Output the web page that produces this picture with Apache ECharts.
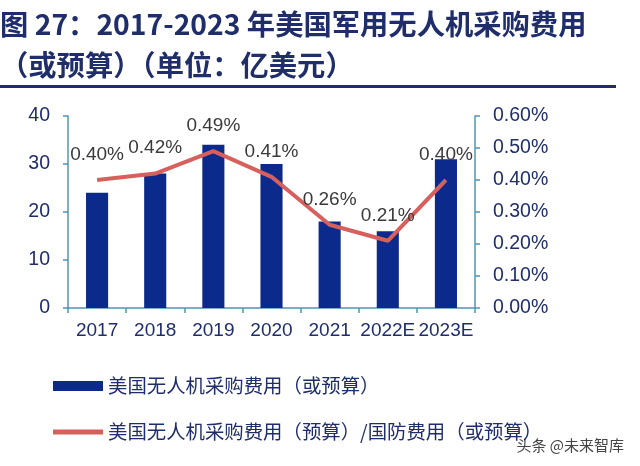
<!DOCTYPE html>
<html><head><meta charset="utf-8">
<script src="https://cdn.jsdelivr.net/npm/echarts@6/dist/echarts.min.js"></script>
<style>html,body{margin:0;padding:0;background:#fff}#c{width:640px;height:466px}</style>
</head><body><div id="c"></div>
<script>
const categories = ['2017','2018','2019','2020','2021','2022E','2023E'];
const spending = [24, 28, 34, 30, 18, 16, 31];
const ratio = [0.40, 0.42, 0.49, 0.41, 0.26, 0.21, 0.40];
const leftTicks = [0, 10, 20, 30, 40];
const rightTicks = [0, 0.1, 0.2, 0.3, 0.4, 0.5, 0.6];
const titleLine1 = '图 27：2017-2023 年美国军用无人机采购费用';
const titleLine2 = '（或预算）（单位：亿美元）';
const barName = '美国无人机采购费用（或预算）';
const lineName = '美国无人机采购费用（预算）/国防费用（或预算）';

const navy = '#1f2d6b';
const axisCol = '#4f96b4';
const font = 'Liberation Sans, Arial, Noto Sans CJK SC, sans-serif';
const cjk = 'Noto Sans CJK SC, sans-serif';

const chart = echarts.init(document.getElementById('c'));
chart.setOption({
  backgroundColor: '#fff',
  animation: false,
  graphic: [
    {type:'text', left: 0, top: 10, style:{text: titleLine1, font: 'bold 28.3px ' + cjk, fill: navy}},
    {type:'text', left: 0, top: 51, style:{text: titleLine2, font: 'bold 28.3px ' + cjk, fill: navy}},
    {type:'rect', shape:{x:0, y:85, width:616, height:3}, style:{fill: navy}},
    {type:'text', right: 16, top: 438, style:{text: '头条 @未来智库', font: '15px ' + cjk, fill: '#444'}}
  ],
  grid: {left: 68, right: 165, top: 116, bottom: 158},
  legend: {
    orient: 'vertical', left: 48, top: 371,
    itemWidth: 50, itemHeight: 10, itemGap: 26,
    textStyle: {fontFamily: cjk, fontSize: 19.4, color: navy, lineHeight: 20},
    data: [
      {name: barName, icon: 'rect'},
      {name: lineName, icon: 'path://M0,0h100v10h-100z'}
    ]
  },
  xAxis: {
    type: 'category', data: categories,
    axisLine: {lineStyle: {color: axisCol, width: 1.5}},
    axisTick: {show: true, length: 5, lineStyle: {color: axisCol, width: 1.5}},
    axisLabel: {color: navy, fontSize: 19, fontFamily: font, margin: 13, interval: 0}
  },
  yAxis: [
    {type: 'value', min: leftTicks[0], max: leftTicks[leftTicks.length-1], interval: 10,
     axisLine: {show: true, lineStyle: {color: axisCol, width: 1.5}},
     axisTick: {show: true, length: 5, lineStyle: {color: axisCol, width: 1.5}},
     splitLine: {show: false},
     axisLabel: {color: navy, fontSize: 19.5, fontFamily: font, margin: 18}},
    {type: 'value', min: rightTicks[0], max: rightTicks[rightTicks.length-1], interval: 0.1,
     position: 'right',
     axisLine: {show: true, lineStyle: {color: axisCol, width: 1.5}},
     axisTick: {show: true, length: 5, lineStyle: {color: axisCol, width: 1.5}},
     splitLine: {show: false},
     axisLabel: {color: navy, fontSize: 19.5, fontFamily: font, margin: 18,
       formatter: v => v.toFixed(2) + '%'}}
  ],
  series: [
    {name: barName, type: 'bar', data: spending, barWidth: '38%',
     itemStyle: {color: '#0c2a8c'}},
    {name: lineName, type: 'line', yAxisIndex: 1, data: ratio,
     symbol: 'circle', symbolSize: 0.01, showSymbol: true, smooth: false,
     lineStyle: {color: '#d8605c', width: 4},
     itemStyle: {color: '#d8605c'},
     label: {show: true, position: 'top', distance: 16, color: '#3a3a3a',
       fontSize: 19, fontFamily: font, formatter: p => p.value.toFixed(2) + '%'}}
  ]
});
</script></body></html>
